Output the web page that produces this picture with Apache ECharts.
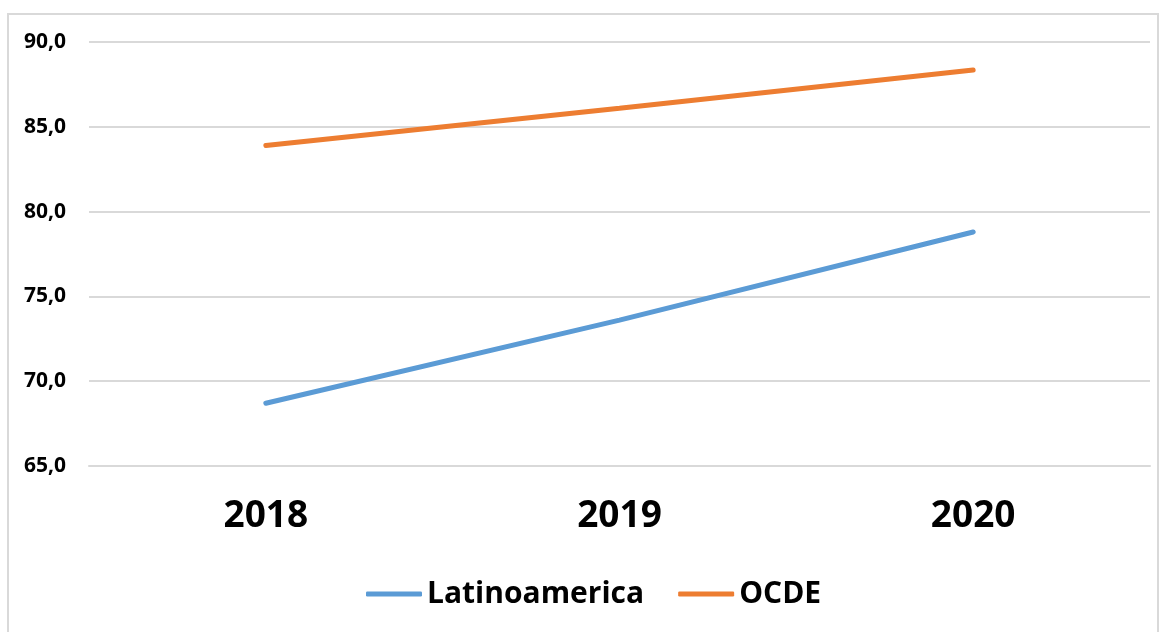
<!DOCTYPE html>
<html>
<head>
<meta charset="utf-8">
<script src="https://cdn.jsdelivr.net/npm/echarts@6/dist/echarts.min.js"></script>
<style>
  html, body { margin: 0; padding: 0; background: #fff; }
  #frame { position: absolute; left: 7px; top: 13px; width: 1152px; height: 640px; border: 2px solid #d9d9d9; box-sizing: border-box; }
  #chart { position: absolute; left: 0; top: 0; width: 1167px; height: 632px; }
</style>
</head>
<body>
<div id="frame"></div>
<div id="chart"></div>
<script>
// datos
const years = ['2018', '2019', '2020'];
const latinoamerica = [68.7, 73.6, 78.8];
const ocde = [83.9, 86.1, 88.35];
const yTicks = [65, 70, 75, 80, 85, 90];

const chart = echarts.init(document.getElementById('chart'));
const font = '"Open Sans", sans-serif';

const option = {
  animation: false,
  grid: { left: 89, right: 17, top: 42, bottom: 166 },
  legend: {
    bottom: 18,
    left: 361,
    icon: 'roundRect',
    itemWidth: 56,
    itemHeight: 5,
    itemGap: 34,
    textStyle: { fontFamily: font, fontWeight: 'bold', fontSize: 30, color: '#000' },
    data: ['Latinoamerica', 'OCDE']
  },
  xAxis: {
    type: 'category',
    data: years,
    boundaryGap: true,
    axisLine: { lineStyle: { color: '#d9d9d9', width: 2 } },
    axisTick: { show: false },
    axisLabel: { fontFamily: font, fontWeight: 'bold', fontSize: 37, color: '#000', margin: 32 }
  },
  yAxis: {
    type: 'value',
    min: yTicks[0],
    max: yTicks[yTicks.length - 1],
    interval: 5,
    axisLine: { show: false },
    axisTick: { show: false },
    splitLine: { lineStyle: { color: '#d9d9d9', width: 2 } },
    axisLabel: {
      fontFamily: font, fontWeight: 'bold', fontSize: 21, color: '#000', margin: 23,
      formatter: v => v.toFixed(1).replace('.', ',')
    }
  },
  series: [
    {
      name: 'Latinoamerica',
      type: 'line',
      data: latinoamerica,
      showSymbol: false,
      symbol: 'none',
      lineStyle: { color: '#5B9BD5', width: 5, cap: 'round' },
      itemStyle: { color: '#5B9BD5' }
    },
    {
      name: 'OCDE',
      type: 'line',
      data: ocde,
      showSymbol: false,
      symbol: 'none',
      lineStyle: { color: '#ED7D31', width: 5, cap: 'round' },
      itemStyle: { color: '#ED7D31' }
    }
  ]
};

chart.setOption(option, true);
</script>
</body>
</html>
